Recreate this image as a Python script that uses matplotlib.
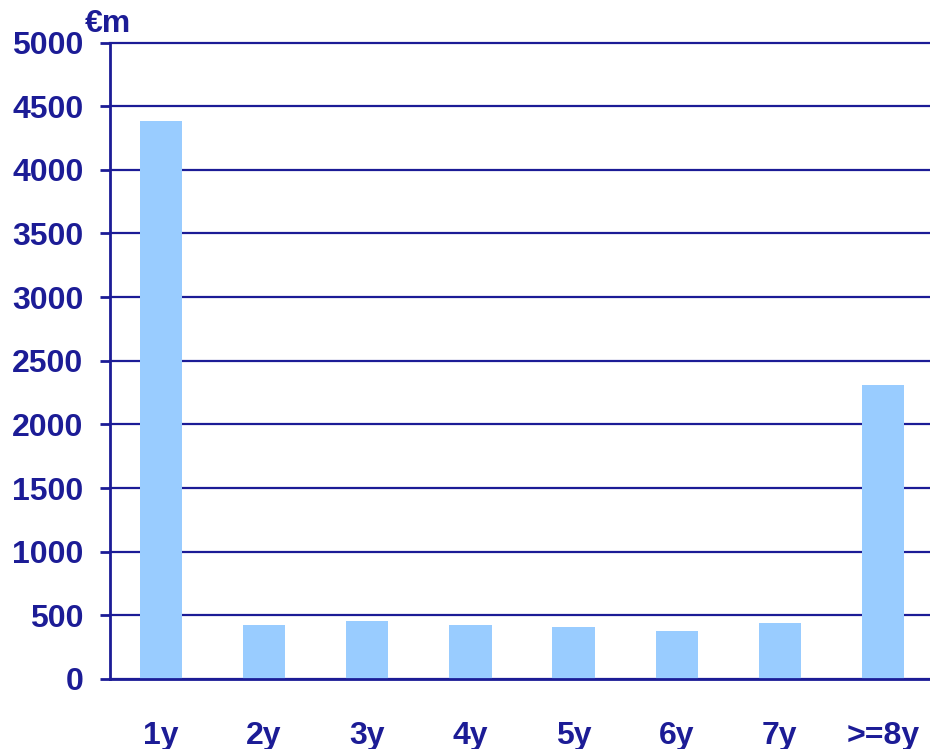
import numpy as np
import matplotlib.pyplot as plt

# Maturity buckets and amounts (EUR millions)
categories = ["1y", "2y", "3y", "4y", "5y", "6y", "7y", ">=8y"]
amounts = [4380, 425, 455, 425, 410, 378, 440, 2310]
yticks = list(range(0, 5001, 500))

navy = "#1c1c96"
bar_color = "#99ccff"

plt.rcParams["font.family"] = ["Liberation Sans", "DejaVu Sans"]

fig = plt.figure(figsize=(9.3, 7.49), dpi=100)
ax = fig.add_axes([110 / 930, 1 - 679 / 749, 820 / 930, (679 - 42.5) / 749])

x = np.arange(len(categories))
ax.bar(x, amounts, width=0.41, color=bar_color, zorder=3)

ax.set_xlim(-0.494, len(categories) - 0.544)
ax.set_ylim(0, 5000)
ax.set_yticks(yticks)
ax.set_yticklabels([str(t) for t in yticks], fontsize=23, fontweight="bold", color=navy)
ax.set_xticks(x)
ax.set_xticklabels(categories, fontsize=23, fontweight="bold", color=navy)

ax.tick_params(axis="y", length=7, width=2, color=navy, pad=12)
ax.tick_params(axis="x", length=0, pad=30)

ax.grid(axis="y", color=navy, linewidth=1.6, zorder=1)
for line in ax.get_ygridlines():
    line.set_clip_on(False)
for side in ["top", "right"]:
    ax.spines[side].set_visible(False)
for side in ["left", "bottom"]:
    ax.spines[side].set_color(navy)
    ax.spines[side].set_linewidth(2)
    ax.spines[side].set_zorder(4)

fig.text(85 / 930, 1 - 24 / 749, "€m", fontsize=23, fontweight="bold",
         color=navy, va="center", ha="left")

fig.savefig("out.png", dpi=100)
